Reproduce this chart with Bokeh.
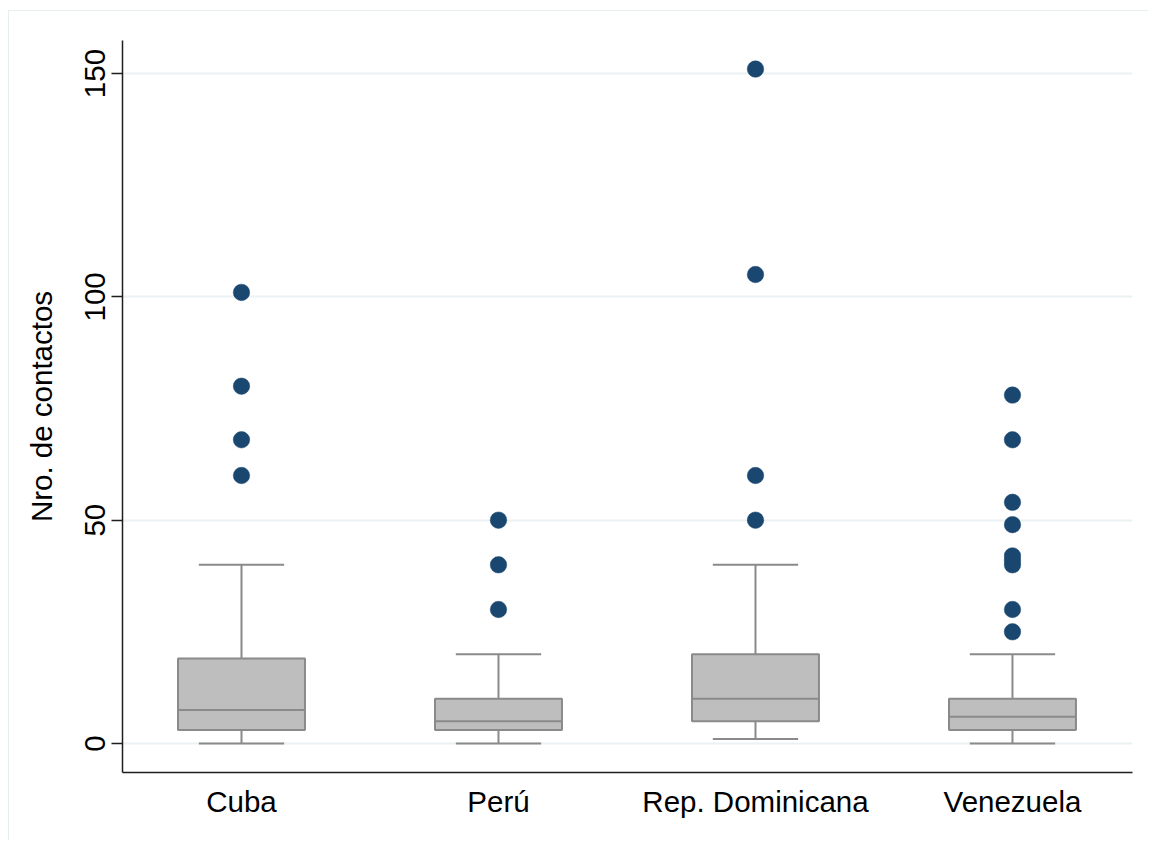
from bokeh.plotting import figure
from bokeh.models import Range1d, FixedTicker
from bokeh.embed import file_html
from bokeh.resources import INLINE

# Contacts per respondent, summarised by country of origin
categories = ["Cuba", "Perú", "Rep. Dominicana", "Venezuela"]
lower_whisker = [0, 0, 1, 0]
q1 = [3, 3, 5, 3]
median = [7.5, 5, 10, 6]
q3 = [19, 10, 20, 10]
upper_whisker = [40, 20, 40, 20]
outliers_cuba = [60, 68, 80, 101]
outliers_peru = [30, 40, 50]
outliers_repdom = [50, 60, 105, 151]
outliers_venezuela = [25, 30, 40, 41, 42, 49, 54, 68, 78]

y_ticks = [0, 50, 100, 150]
y_title = "Nro. de contactos"

FONT = "Liberation Sans"
BOX_FILL = "#bebebe"
BOX_LINE = "#8a8a8a"
DOT = "#1a476f"
GRID = "#eaf2f3"
AXIS = "#1e1e1e"

xs = list(range(1, len(categories) + 1))
box_w = 0.494
cap_half = 0.166

p = figure(
    width=1140, height=830,
    output_backend="svg", toolbar_location=None,
    x_range=Range1d(0.537, 4.467), y_range=Range1d(-6.5, 157.4),
    min_border_left=113, min_border_right=17,
    min_border_top=29, min_border_bottom=69,
)
p.margin = (10, 0, 0, 8)
p.styles = {"border-top": "1px solid #e6eeee", "border-left": "1px solid #e6eeee"}
p.outline_line_color = None
p.background_fill_color = "white"
p.border_fill_color = "white"

# grid
p.xgrid.visible = False
p.ygrid.ticker = FixedTicker(ticks=y_ticks)
p.ygrid.grid_line_color = GRID
p.ygrid.grid_line_width = 2

# x axis
p.xaxis.ticker = FixedTicker(ticks=xs)
p.xaxis.major_label_overrides = {x: c for x, c in zip(xs, categories)}
p.xaxis.major_tick_out = 0
p.xaxis.major_tick_in = 0
p.xaxis.minor_tick_line_color = None
p.xaxis.major_label_standoff = 12

# y axis
p.yaxis.ticker = FixedTicker(ticks=y_ticks)
p.yaxis.major_label_orientation = "vertical"
p.yaxis.major_tick_out = 11
p.yaxis.major_tick_in = 0
p.yaxis.minor_tick_line_color = None
p.yaxis.major_label_standoff = 6
p.yaxis.axis_label = y_title
p.yaxis.axis_label_standoff = 25

for ax in (p.xaxis[0], p.yaxis[0]):
    ax.axis_line_color = AXIS
    ax.axis_line_width = 1.5
    ax.major_tick_line_color = AXIS
    ax.major_tick_line_width = 1.5
    ax.major_label_text_font = FONT
    ax.major_label_text_font_size = "29.5px"
    ax.major_label_text_color = "#000000"
    ax.axis_label_text_font = FONT
    ax.axis_label_text_font_size = "29.5px"
    ax.axis_label_text_font_style = "normal"
    ax.axis_label_text_color = "#000000"

# whiskers and caps
p.segment(x0=xs, y0=lower_whisker, x1=xs, y1=q1, line_color=BOX_LINE, line_width=2)
p.segment(x0=xs, y0=q3, x1=xs, y1=upper_whisker, line_color=BOX_LINE, line_width=2)
p.segment(x0=[x - cap_half for x in xs], y0=lower_whisker,
          x1=[x + cap_half for x in xs], y1=lower_whisker,
          line_color=BOX_LINE, line_width=2)
p.segment(x0=[x - cap_half for x in xs], y0=upper_whisker,
          x1=[x + cap_half for x in xs], y1=upper_whisker,
          line_color=BOX_LINE, line_width=2)

# boxes with median line
p.vbar(x=xs, width=box_w, bottom=q1, top=q3,
       fill_color=BOX_FILL, line_color=BOX_LINE, line_width=2)
p.segment(x0=[x - box_w / 2 for x in xs], y0=median,
          x1=[x + box_w / 2 for x in xs], y1=median,
          line_color=BOX_LINE, line_width=2)

# outside values
for x, vals in zip(xs, [outliers_cuba, outliers_peru, outliers_repdom, outliers_venezuela]):
    p.scatter(x=[x] * len(vals), y=vals, size=16.5,
              fill_color=DOT, line_color=DOT, line_width=0.5)

open("out.html", "w").write(file_html(p, INLINE))
